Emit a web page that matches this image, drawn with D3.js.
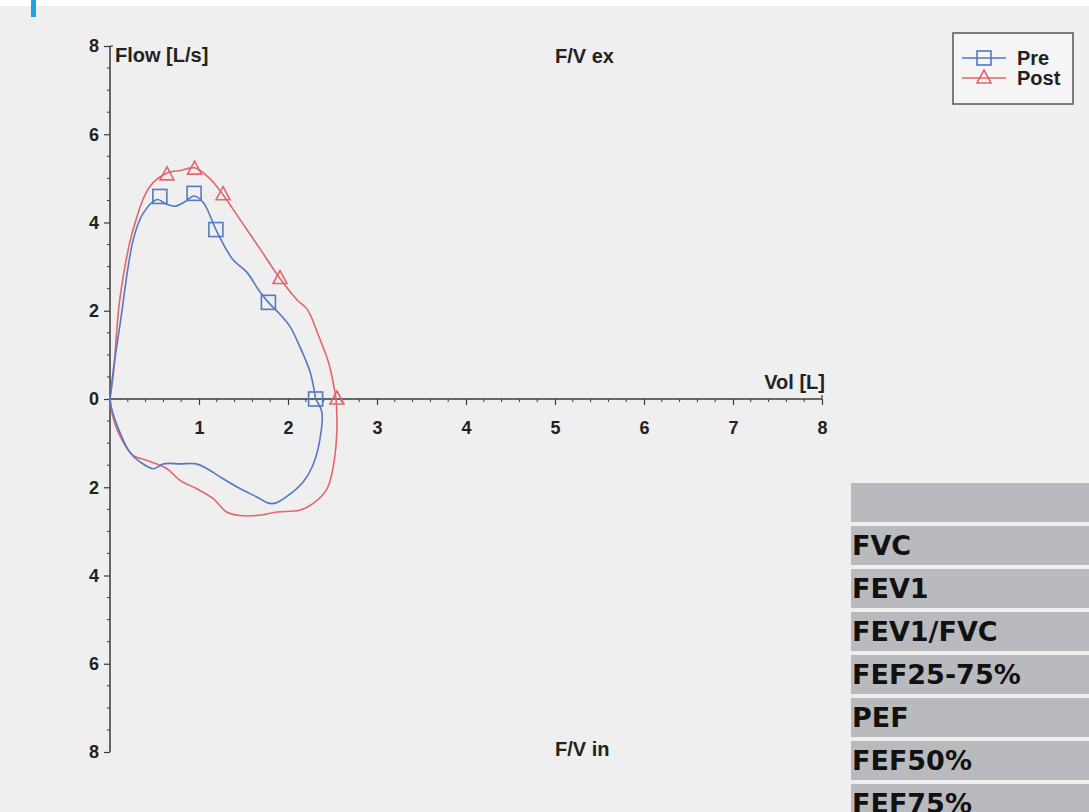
<!DOCTYPE html>
<html>
<head>
<meta charset="utf-8">
<script src="https://cdn.jsdelivr.net/npm/d3@7"></script>
<style>
  body { margin: 0; background: #eeefee; }
  svg { display: block; font-family: "Liberation Sans", Arial, sans-serif; }
</style>
</head>
<body>
<svg id="chart" width="1089" height="812"></svg>
<script>
// flow-volume loop, [volume L, flow L/s]
var preExp = [[0,0],[0.04,0.7],[0.11,1.65],[0.26,3.6],[0.37,4.2],[0.53,4.52],[0.63,4.42],[0.73,4.37],[0.85,4.48],[0.94,4.6],[1.05,4.45],[1.19,3.84],[1.38,3.16],[1.54,2.87],[1.66,2.5],[1.78,2.19],[1.92,1.9],[2.02,1.65],[2.13,1.2],[2.25,0.6],[2.31,0]];
var preInsp = [[2.31,0],[2.38,-0.3],[2.36,-0.9],[2.28,-1.5],[2.17,-1.88],[1.98,-2.22],[1.86,-2.36],[1.78,-2.36],[1.65,-2.22],[1.46,-2.03],[1.24,-1.77],[1.09,-1.58],[0.97,-1.47],[0.79,-1.47],[0.6,-1.47],[0.49,-1.58],[0.34,-1.43],[0.22,-1.2],[0.11,-0.75],[0.02,-0.23],[0,0]];
var postExp = [[0,0],[0.04,0.6],[0.11,2.26],[0.26,3.84],[0.45,4.82],[0.64,5.12],[0.79,5.18],[0.95,5.24],[1.12,5.0],[1.27,4.63],[1.46,4.07],[1.69,3.39],[1.91,2.73],[2.1,2.25],[2.22,2.02],[2.34,1.45],[2.46,0.8],[2.54,0]];
var postInsp = [[2.54,0],[2.55,-0.68],[2.51,-1.51],[2.44,-2.03],[2.28,-2.37],[2.13,-2.52],[1.88,-2.56],[1.65,-2.64],[1.46,-2.64],[1.31,-2.56],[1.16,-2.26],[0.97,-2.03],[0.79,-1.85],[0.64,-1.58],[0.41,-1.39],[0.26,-1.28],[0.11,-0.83],[0.02,-0.3],[0,0]];
var preMarkers = [[0.56,4.59],[0.945,4.66],[1.19,3.84],[1.78,2.19],[2.31,0]];
var postMarkers = [[0.64,5.08],[0.95,5.21],[1.27,4.63],[1.91,2.73],[2.55,0]];

var xTicks = [1, 2, 3, 4, 5, 6, 7, 8];
var yTicks = [-8, -6, -4, -2, 0, 2, 4, 6, 8];
var seriesNames = ["Pre", "Post"];
var tableRows = ["", "FVC", "FEV1", "FEV1/FVC", "FEF25-75%", "PEF", "FEF50%", "FEF75%"];

var blue = "#5678c4", red = "#e2666c", axisCol = "#3a3a3a";

var svg = d3.select("#chart");

// top strip and marker
svg.append("rect").attr("x", 0).attr("y", 0).attr("width", 1089).attr("height", 6).attr("fill", "#ffffff");
svg.append("rect").attr("x", 31).attr("y", 0).attr("width", 5).attr("height", 17).attr("fill", "#1aa3e8");

var x = d3.scaleLinear().domain([0, 8]).range([110, 822]);
var y = d3.scaleLinear().domain([-8, 8]).range([752, 46]);

// y axis
var yAxis = d3.axisLeft(y).tickValues(yTicks).tickSize(6).tickPadding(5)
  .tickFormat(function(d) { return Math.abs(d); });
var gy = svg.append("g").attr("transform", "translate(" + x(0) + ",0)").call(yAxis);
gy.select(".domain").remove();
gy.selectAll(".tick line").attr("stroke", axisCol).attr("stroke-width", 1.2);
gy.selectAll(".tick text").attr("fill", "#222").style("font-size", "18px").style("font-weight", "bold");

var yMinor = d3.range(-8, 8.01, 0.5).filter(function(d) { return d % 2 != 0; });
svg.append("g").selectAll("line").data(yMinor).join("line")
  .attr("x1", x(0) - 3).attr("x2", x(0))
  .attr("y1", function(d) { return y(d); }).attr("y2", function(d) { return y(d); })
  .attr("stroke", axisCol).attr("stroke-width", 1);
svg.append("line").attr("x1", x(0)).attr("x2", x(0)).attr("y1", y(8)).attr("y2", y(-8))
  .attr("stroke", axisCol).attr("stroke-width", 1.5);
svg.append("line").attr("x1", x(0)).attr("x2", x(0) + 3).attr("y1", y(8)).attr("y2", y(8))
  .attr("stroke", axisCol).attr("stroke-width", 1.2);

// x axis
var xAxis = d3.axisBottom(x).tickValues(xTicks).tickSize(6).tickPadding(16);
var gx = svg.append("g").attr("transform", "translate(0," + y(0) + ")").call(xAxis);
gx.select(".domain").remove();
gx.selectAll(".tick line").attr("stroke", axisCol).attr("stroke-width", 1.2);
gx.selectAll(".tick text").attr("fill", "#222").style("font-size", "18px").style("font-weight", "bold");
var xMinor = d3.range(0.2, 8, 0.2).filter(function(d) { return Math.abs(d - Math.round(d)) > 0.01; });
svg.append("g").selectAll("line").data(xMinor).join("line")
  .attr("x1", function(d) { return x(d); }).attr("x2", function(d) { return x(d); })
  .attr("y1", y(0)).attr("y2", y(0) + 3)
  .attr("stroke", axisCol).attr("stroke-width", 1);
svg.append("line").attr("x1", x(0)).attr("x2", x(8)).attr("y1", y(0)).attr("y2", y(0))
  .attr("stroke", axisCol).attr("stroke-width", 1.5);
svg.append("line").attr("x1", x(8)).attr("x2", x(8)).attr("y1", y(0) - 4).attr("y2", y(0))
  .attr("stroke", axisCol).attr("stroke-width", 1.2);

// labels
function label(t, lx, ly, anchor, size) {
  svg.append("text").attr("x", lx).attr("y", ly).attr("text-anchor", anchor || "start")
    .attr("fill", "#222").style("font-size", (size || 19) + "px").style("font-weight", "bold").text(t);
}
label("Flow [L/s]", x(0) + 5, 62, "start", 20);
label("F/V ex", 555, 63, "start", 20);
label("F/V in", 555, 756, "start", 20);
label("Vol [L]", x(8) + 3, 389, "end", 20);

// curves
var line = d3.line().x(function(d) { return x(d[0]); }).y(function(d) { return y(d[1]); })
  .curve(d3.curveCatmullRom.alpha(0.5));
var curves = [
  { data: postExp, color: red }, { data: postInsp, color: red },
  { data: preExp, color: blue }, { data: preInsp, color: blue }
];
svg.append("g").selectAll("path").data(curves).join("path")
  .attr("d", function(d) { return line(d.data); })
  .attr("fill", "none").attr("stroke", function(d) { return d.color; }).attr("stroke-width", 1.6);

function square(g, cx, cy, c) {
  g.append("rect").attr("x", cx - 7).attr("y", cy - 7).attr("width", 14).attr("height", 14)
    .attr("fill", "none").attr("stroke", c).attr("stroke-width", 1.6);
}
function triangle(g, cx, cy, c) {
  g.append("path").attr("d", "M" + cx + "," + (cy - 8) + "L" + (cx + 7) + "," + (cy + 5) + "L" + (cx - 7) + "," + (cy + 5) + "Z")
    .attr("fill", "none").attr("stroke", c).attr("stroke-width", 1.6);
}
var gm = svg.append("g");
postMarkers.forEach(function(d) { triangle(gm, x(d[0]), y(d[1]), red); });
preMarkers.forEach(function(d) { square(gm, x(d[0]), y(d[1]), blue); });

// legend
var lg = svg.append("g");
lg.append("rect").attr("x", 953).attr("y", 33).attr("width", 120).attr("height", 71)
  .attr("fill", "#f4f5f4").attr("stroke", "#555").attr("stroke-width", 1.5);
seriesNames.forEach(function(n, i) {
  var ly = 58 + i * 20, c = i == 0 ? blue : red;
  lg.append("line").attr("x1", 962).attr("x2", 1006).attr("y1", ly).attr("y2", ly)
    .attr("stroke", c).attr("stroke-width", 1.3);
  if (i == 0) square(lg, 984, ly, c); else triangle(lg, 984, ly, c);
  lg.append("text").attr("x", 1017).attr("y", ly + 7).attr("fill", "#222")
    .style("font-size", "20px").style("font-weight", "bold").text(n);
});

// parameter table
var tg = svg.append("g");
tableRows.forEach(function(t, i) {
  var ty = 483 + i * 43;
  tg.append("rect").attr("x", 851).attr("y", ty).attr("width", 238).attr("height", 39).attr("fill", "#b9babd");
  tg.append("text").attr("x", 852).attr("y", ty + 29).attr("fill", "#111")
    .style("font-family", "'DejaVu Sans', sans-serif")
    .style("font-size", "27px").style("font-weight", "bold").text(t);
});
</script>
</body>
</html>
